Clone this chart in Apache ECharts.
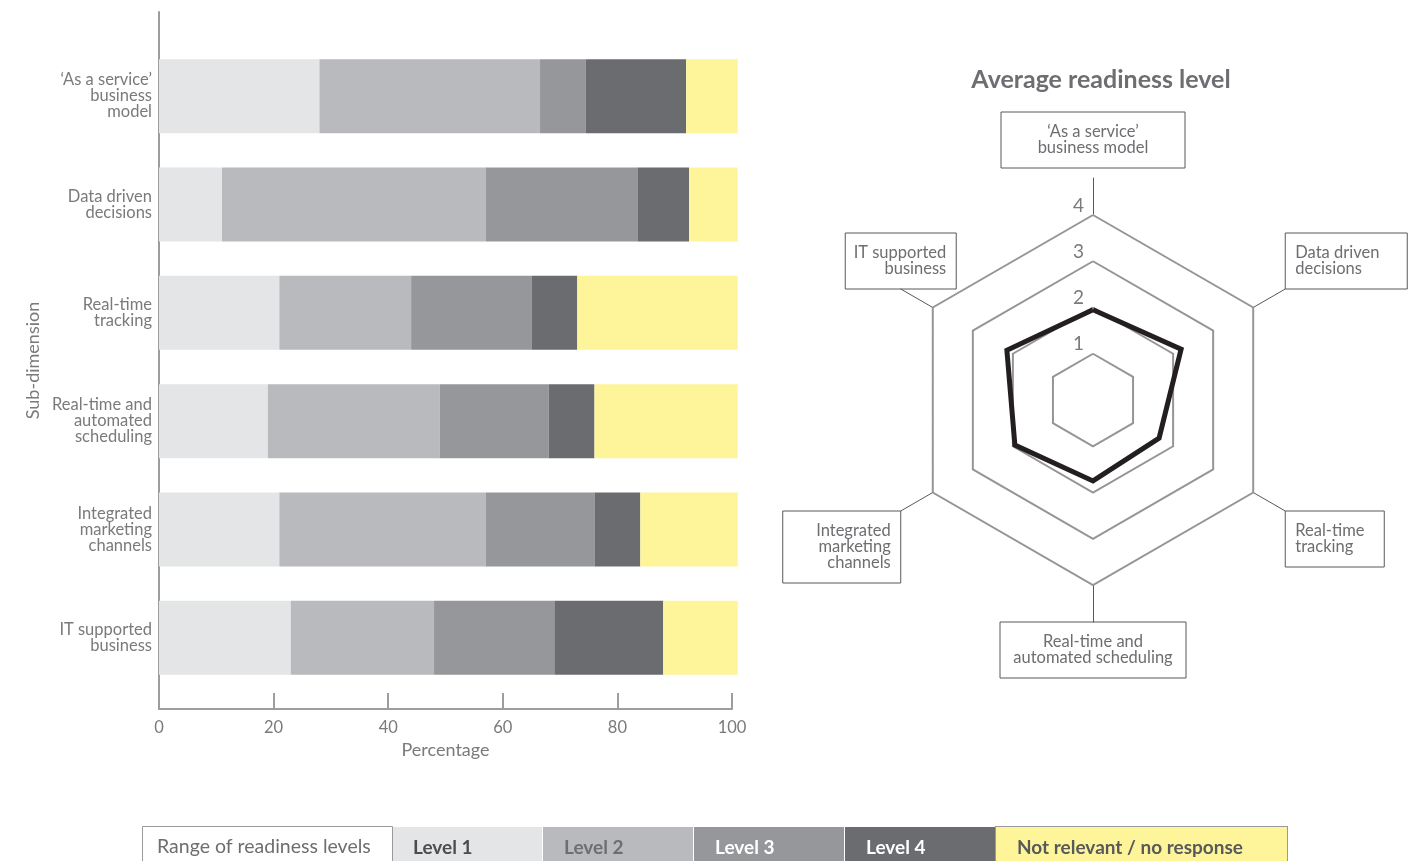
<!DOCTYPE html>
<html>
<head>
<meta charset="utf-8">
<title>Readiness levels by sub-dimension</title>
<script src="https://cdn.jsdelivr.net/npm/echarts@6/dist/echarts.min.js"></script>
<style>
  html, body { margin: 0; padding: 0; background: #ffffff; }
  #chart { width: 1420px; height: 861px; }
</style>
</head>
<body>
<div id="chart"></div>
<script>
// Sub-dimensions, top to bottom in the bar chart
const subDimensions = [
  '\u2018As a service\u2019\nbusiness\nmodel',
  'Data driven\ndecisions',
  'Real-time\ntracking',
  'Real-time and\nautomated\nscheduling',
  'Integrated\nmarketing\nchannels',
  'IT supported\nbusiness'
];
// Same sub-dimensions, wrapped for the radar boxes
const radarNames = [
  '\u2018As a service\u2019\nbusiness model',
  'Data driven\ndecisions',
  'Real-time\ntracking',
  'Real-time and\nautomated scheduling',
  'Integrated\nmarketing\nchannels',
  'IT supported\nbusiness'
];

// Share of respondents (%) at each readiness level, per sub-dimension
const level1 = [28, 11, 21, 19, 21, 23];
const level2 = [38.5, 46, 23, 30, 36, 25];
const level3 = [8, 26.5, 21, 19, 19, 21];
const level4 = [17.5, 9, 8, 8, 8, 19];
const notRelevant = [9, 8.5, 28, 25, 17, 13];

// Average readiness level (1-4), per sub-dimension
const averageReadiness = [1.95, 2.2, 1.65, 1.75, 1.95, 2.15];

const percentTicks = [0, 20, 40, 60, 80, 100];
const levelTicks = [1, 2, 3, 4];

const levelNames = ['Level 1', 'Level 2', 'Level 3', 'Level 4', 'Not relevant / no response'];
const levelColors = ['#e4e5e6', '#b9babd', '#96979a', '#6b6c70', '#fef59b'];
const legendTextColors = ['#4d4d4f', '#6d6e71', '#ffffff', '#ffffff', '#58595b'];
const levelValues = [level1, level2, level3, level4, notRelevant];

const FONT = 'Lato, "Open Sans", sans-serif';
const AXIS_GREY = '#9d9d9f';
const TEXT_GREY = '#7a7a7c';

// Radar indicators run counter-clockwise from the top; the sub-dimensions go clockwise
const radarOrder = [0, 5, 4, 3, 2, 1];

// Box layout of each radar name, in sub-dimension order
const nameBoxWidth = [164, 102, 79, 166, 98, 91];
const nameBoxAlign = ['center', 'left', 'left', 'center', 'right', 'right'];
const nameBoxAnchor = [null, 'left', 'left', null, 'right', 'center'];
const nameBoxVAlign = [null, 'bottom', 'top', null, 'top', 'bottom'];
const nameBoxGap = [10, 0, 0, 0, 0, 0];

const NAME_FONT = 16.5;
const nameRich = {};
radarNames.forEach((n, k) => {
  nameRich['n' + k] = {
    width: nameBoxWidth[k],
    align: nameBoxAlign[k],
    fontFamily: FONT,
    fontSize: NAME_FONT,
    lineHeight: 16,
    color: '#6d6e71'
  };
});

const chart = echarts.init(document.getElementById('chart'), null, { renderer: 'canvas' });

const barSeries = levelNames.map((name, i) => ({
  name: name,
  type: 'bar',
  stack: 'share',
  xAxisIndex: 0,
  yAxisIndex: 0,
  barWidth: 74,
  clip: false,
  itemStyle: { color: levelColors[i] },
  emphasis: { disabled: true },
  data: levelValues[i]
}));

const option = {
  backgroundColor: '#ffffff',
  animation: false,
  textStyle: { fontFamily: FONT },
  title: [
    {
      text: 'Average readiness level',
      left: 1096,
      top: 62,
      textAlign: 'center',
      textStyle: { fontFamily: FONT, fontSize: 25, fontWeight: 'bold', color: '#6d6e71' }
    },
    {
      text: 'Range of readiness levels',
      left: 142,
      top: 826,
      padding: [10, 0, 10, 15],
      borderColor: '#9a9a9c',
      borderWidth: 1,
      textStyle: { fontFamily: FONT, fontSize: 19.5, fontWeight: 'normal', color: '#6d6e71', width: 236, lineHeight: 22 }
    }
  ],
  legend: {
    left: 387,
    top: 826,
    padding: 0,
    itemGap: -6,
    itemWidth: 0,
    itemHeight: 0,
    icon: 'rect',
    selectedMode: false,
    data: levelNames.map((name, i) => ({
      name: name,
      textStyle: {
        fontFamily: FONT,
        fontSize: 19,
        fontWeight: 'bold',
        color: legendTextColors[i],
        backgroundColor: levelColors[i],
        borderColor: i === levelNames.length - 1 ? '#9a9a9c' : '#ffffff',
        borderWidth: 1,
        width: i === levelNames.length - 1 ? 270 : 130,
        lineHeight: 22,
        padding: [10, 0, 10, 21]
      }
    }))
  },
  grid: [
    { left: 159, right: 688, top: 42, bottom: 169 },
    { left: 159, right: 688, top: 12, bottom: 152 }
  ],
  xAxis: [
    { gridIndex: 0, type: 'value', min: 0, max: 100, show: false },
    {
      gridIndex: 1,
      type: 'value',
      min: percentTicks[0],
      max: percentTicks[percentTicks.length - 1],
      interval: percentTicks[1] - percentTicks[0],
      name: 'Percentage',
      nameLocation: 'middle',
      nameGap: 31,
      nameTextStyle: { fontFamily: FONT, fontSize: 18, color: TEXT_GREY },
      axisLine: { show: true, lineStyle: { color: AXIS_GREY, width: 2 } },
      axisTick: { show: true, inside: true, length: 16, lineStyle: { color: AXIS_GREY, width: 2 } },
      axisLabel: { margin: 10, fontFamily: FONT, fontSize: 16.5, color: TEXT_GREY },
      splitLine: { show: false }
    }
  ],
  yAxis: [
    {
      gridIndex: 0,
      type: 'category',
      inverse: true,
      data: subDimensions,
      axisLine: { show: false },
      axisTick: { show: false },
      axisLabel: {
        margin: 7, fontFamily: FONT, fontSize: 16.5, lineHeight: 16, color: TEXT_GREY, align: 'right'
      },
      splitLine: { show: false }
    },
    {
      gridIndex: 1,
      type: 'value',
      min: 0,
      max: 1,
      name: 'Sub-dimension',
      nameLocation: 'middle',
      nameGap: 117,
      nameTextStyle: { fontFamily: FONT, fontSize: 18, color: TEXT_GREY },
      axisLine: { show: true, lineStyle: { color: AXIS_GREY, width: 2 } },
      axisTick: { show: false },
      axisLabel: { show: false },
      splitLine: { show: false }
    }
  ],
  radar: [
    // Outer frame: leader lines out to the boxed sub-dimension names
    {
      center: [1093, 400],
      radius: 222,
      startAngle: 90,
      shape: 'polygon',
      splitNumber: 4,
      nameGap: 0,
      indicator: radarOrder.map(k => {
        const ind = { name: radarNames[k], max: 4, min: 0, nameGap: nameBoxGap[k] };
        if (nameBoxVAlign[k]) {
          ind.nameTextStyle = { verticalAlign: nameBoxVAlign[k], align: nameBoxAnchor[k] };
        }
        return ind;
      }),
      axisName: {
        fontFamily: FONT,
        fontSize: NAME_FONT,
        lineHeight: 16,
        color: '#6d6e71',
        borderColor: '#58595b',
        borderWidth: 1,
        padding: [12, 10],
        formatter: (name) => {
          const k = radarNames.indexOf(name);
          return name.split('\n').map(line => '{n' + k + '|' + line + '}').join('\n');
        },
        rich: nameRich
      },
      // only the stretch outside the rings is drawn
      axisLine: { show: true, lineStyle: { color: '#58595b', width: 1, type: [100, 186], dashOffset: 100 } },
      axisTick: { show: false },
      axisLabel: { show: false },
      splitLine: { show: false },
      splitArea: { show: false }
    },
    // Inner frame: readiness rings 1-4
    {
      center: [1093, 400],
      radius: 185,
      startAngle: 90,
      shape: 'polygon',
      splitNumber: levelTicks.length,
      indicator: radarOrder.map((k, i) => (i === 0
        ? { name: '', max: levelTicks[levelTicks.length - 1], min: 0, axisLabel: { show: true } }
        : { name: '', max: levelTicks[levelTicks.length - 1], min: 0 })),
      axisName: { show: false },
      axisLine: { show: false },
      axisTick: { show: false },
      axisLabel: {
        show: false,
        showMinLabel: false,
        margin: 9,
        verticalAlign: 'bottom',
        fontFamily: FONT,
        fontSize: 19,
        color: '#7a7a7c'
      },
      splitLine: { show: true, lineStyle: { color: '#959597', width: 2 } },
      splitArea: { show: false }
    }
  ],
  series: barSeries.concat([
    {
      name: 'Average readiness level',
      type: 'radar',
      radarIndex: 1,
      z: 5,
      symbol: 'none',
      silent: true,
      lineStyle: { color: '#231f20', width: 5, join: 'miter' },
      areaStyle: { opacity: 0 },
      data: [{ value: radarOrder.map(k => averageReadiness[k]) }]
    }
  ])
};

chart.setOption(option);
</script>
</body>
</html>
